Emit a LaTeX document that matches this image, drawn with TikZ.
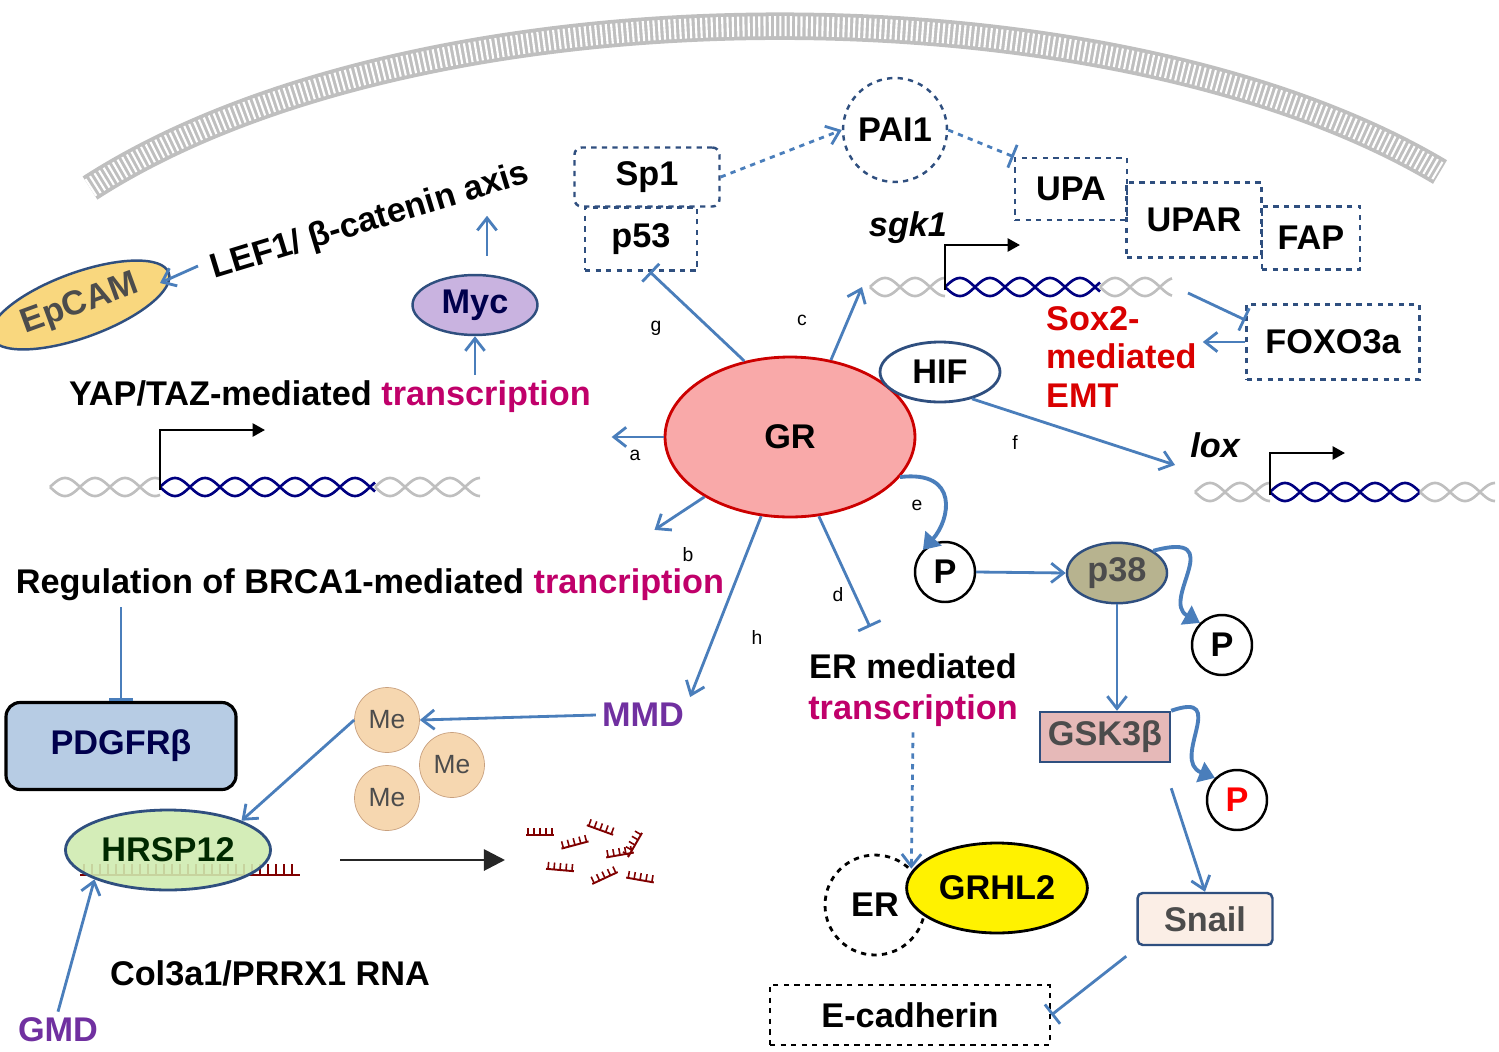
\documentclass[tikz,border=0pt]{standalone}
\usepackage{fontspec}
\setmainfont{Liberation Sans}
\usetikzlibrary{shapes.geometric,arrows.meta}
\definecolor{arrowblue}{HTML}{4A7EBB}
\definecolor{boxblue}{HTML}{2F4F7F}
\definecolor{magentatext}{HTML}{C0006A}
\definecolor{mdpurple}{HTML}{7030A0}
\definecolor{grfill}{HTML}{F9A9A9}
\definecolor{mycfill}{HTML}{C9B3E0}
\definecolor{epfill}{HTML}{F9D77E}
\definecolor{pdfill}{HTML}{B7CCE4}
\definecolor{mefill}{HTML}{F6D7B0}
\definecolor{medraw}{HTML}{C8A07E}
\definecolor{hrfill}{HTML}{CFEBB0}
\definecolor{p38fill}{HTML}{B7B38F}
\definecolor{gskfill}{HTML}{E6B9B8}
\definecolor{snfill}{HTML}{FBEEE6}
\newcommand{\helix}[4]{%
  \draw[#4, line width=1.5pt] plot[domain=#1:#2, samples=120] (\x,{#3+9*sin(6*(\x-#1))});
  \draw[#4, line width=1.5pt] plot[domain=#1:#2, samples=120] (\x,{#3-9*sin(6*(\x-#1))});}
\tikzset{
  lbl/.style={font=\fontsize{19.5}{23}\selectfont\bfseries},
  small/.style={font=\fontsize{11}{13}\selectfont},
  dbox/.style={draw=boxblue, dashed, line width=1.4pt, lbl, inner sep=0pt},
  act/.style={-{Straight Barb[length=7pt,width=11pt]}, arrowblue, line width=1.6pt},
  inh/.style={-{Bar[width=14pt]}, arrowblue, line width=1.6pt},
  pcirc/.style={circle, draw, line width=1.4pt, fill=white, minimum size=1.2cm, lbl, inner sep=0pt},
  metal/.style={circle, draw=medraw, fill=mefill, minimum size=1.3cm, font=\fontsize{15}{17}\selectfont, text=black!70, inner sep=0pt},
  phos/.style={-{Triangle[length=9pt,width=12pt]}, arrowblue, line width=2.2pt}
}
\begin{document}
\begin{tikzpicture}[x=0.02cm, y=-0.02cm]
        \useasboundingbox (0,0) rectangle (1499,1052);
        % membrane
        \draw[black!25, line width=0.55cm] (90,188) .. controls (420,-25) and (1110,-25) .. (1440,172);
        \draw[white, line width=0.4cm, dash pattern=on 1.2pt off 1.8pt] (90,188) .. controls (420,-25) and (1110,-25) .. (1440,172);

        % main players
        \node[ellipse, draw=red!80!black, line width=1.6pt, fill=grfill, minimum width=5cm, minimum height=3.2cm, lbl] (gr) at (790,437) {GR};
        \node[ellipse, draw=boxblue, line width=1.6pt, fill=white, minimum width=2.4cm, minimum height=1.2cm, lbl] (hif) at (940,372) {HIF};

        \node[dbox, minimum width=2.9cm, minimum height=1.18cm, rounded corners=4pt] (sp1) at (647,177) {Sp1};
        \node[dbox, minimum width=2.24cm, minimum height=1.26cm] (p53) at (641,239) {p53};
        \node[dbox, circle, minimum size=2.08cm] (pai1) at (895,130) {PAI1};
        \node[dbox, minimum width=2.24cm, minimum height=1.24cm] (upa) at (1071,189) {UPA};
        \node[dbox, minimum width=2.7cm, minimum height=1.5cm] (upar) at (1194,220) {UPAR};
        \node[dbox, minimum width=1.96cm, minimum height=1.26cm] (fap) at (1311,238) {FAP};
        \node[dbox, minimum width=3.46cm, minimum height=1.5cm] (foxo) at (1333,342) {FOXO3a};

        % genes
        \node[lbl, font=\fontsize{19.5}{23}\selectfont\bfseries\itshape] (sgk) at (908,228) {sgk1};
        \helix{870}{945}{287}{black!25}
        \helix{945}{1100}{287}{blue!50!black}
        \helix{1100}{1172}{287}{black!25}
        \draw[line width=1.3pt, -{Triangle[length=7pt]}] (945,290) -- (945,245) -- (1020,245);
        \coordinate (sgkend) at (1188,293);
        \coordinate (sgkin) at (862,287);

        \node[lbl, text=red!85!black, align=left, anchor=west, font=\fontsize{19.5}{23}\selectfont\bfseries] (sox) at (1040,357) {Sox2-\\[-1pt]mediated\\[-1pt]EMT};

        \node[lbl, font=\fontsize{19.5}{23}\selectfont\bfseries\itshape] (lox) at (1215,445) {lox};
        \helix{1195}{1270}{492}{black!25}
        \helix{1270}{1420}{492}{blue!50!black}
        \helix{1420}{1495}{492}{black!25}
        \draw[line width=1.3pt, -{Triangle[length=7pt]}] (1270,495) -- (1270,453) -- (1345,453);
        \coordinate (loxin) at (1175,465);

        \node[lbl] (yap) at (330,397) {YAP/TAZ-mediated \textcolor{magentatext}{transcription}};
        \helix{50}{160}{487}{black!25}
        \helix{160}{375}{487}{blue!50!black}
        \helix{375}{480}{487}{black!25}
        \draw[line width=1.3pt, -{Triangle[length=7pt]}] (160,490) -- (160,430) -- (265,430);

        \node[ellipse, draw=boxblue, line width=1.4pt, fill=mycfill, minimum width=2.5cm, minimum height=0.9cm, lbl, text=black!70!blue] (myc) at (475,305) {Myc};
        \node[ellipse, draw=boxblue, line width=1.4pt, fill=epfill, minimum width=2.8cm, minimum height=1.3cm, lbl, text=black!70, rotate=20] (epcam) at (80,305) {EpCAM};
        \node[lbl, rotate=17] (lef) at (370,222) {LEF1/ β-catenin axis};
        \coordinate (lefw) at (198,266);
        \coordinate (epin) at (160,283);

        \node[lbl] (brca) at (370,585) {Regulation of BRCA1-mediated \textcolor{magentatext}{trancription}};
        \node[draw, line width=1.8pt, rounded corners=8pt, fill=pdfill, minimum width=4.6cm, minimum height=1.74cm, lbl, text=black!70!blue] (pdgfr) at (121,746) {PDGFRβ};

        \node[metal] (me1) at (387,720) {Me};
        \node[metal] (me2) at (452,765) {Me};
        \node[metal] (me3) at (387,798) {Me};

        % RNA strand
        \draw[red!50!black, line width=1.6pt] (80,875) -- (300,875);
        \foreach \t in {84,92,...,296} \draw[red!50!black, line width=1pt] (\t,875) -- (\t,864);
        \node[ellipse, draw=boxblue, line width=1.6pt, fill=hrfill, fill opacity=0.9, text opacity=1, minimum width=2.9cm, minimum height=1.6cm, lbl, text=black!60!green!40!black] (hrsp) at (168,850) {HRSP12};
        \coordinate (rnaend) at (340,860);
        \coordinate (frag) at (505,860);
        \draw[black!85, line width=1.6pt, -{Triangle[length=12pt,width=12pt]}] (rnaend) -- (frag);
        % fragments
        \foreach \fx/\fy/\fr in {540/835/0, 575/845/15, 600/830/-20, 620/855/10, 560/870/-5, 605/878/25, 640/880/-10, 635/845/60} {
          \begin{scope}[shift={(\fx,\fy)}, rotate=\fr]
            \draw[red!50!black, line width=1.1pt] (-14,0) -- (14,0);
            \foreach \t in {-12,-6,0,6,12} \draw[red!50!black, line width=0.9pt] (\t,0) -- (\t,-7);
          \end{scope}}

        \node[lbl] (col) at (270,973) {Col3a1/PRRX1 RNA};
        \node[lbl, text=mdpurple] (gmd) at (58,1030) {GMD};
        \node[lbl, text=mdpurple] (mmd) at (643,715) {MMD};

        \node[lbl, align=center, font=\fontsize{19.5}{23}\selectfont\bfseries] (er) at (913,690) {ER mediated\\\textcolor{magentatext}{transcription}};
        \node[circle, draw, dashed, line width=1.6pt, fill=white, minimum size=2cm, lbl] (erc) at (875,905) {ER};
        \node[ellipse, draw, line width=1.6pt, fill=yellow, minimum width=3.2cm, minimum height=1.8cm, lbl] (grhl) at (997,888) {GRHL2};

        \node[pcirc] (p1) at (945,572) {P};
        \node[pcirc] (p2) at (1222,645) {P};
        \node[pcirc, text=red] (p3) at (1237,800) {P};
        \node[ellipse, draw=boxblue, line width=1.4pt, fill=p38fill, minimum width=1.7cm, minimum height=0.9cm, lbl, text=black!70] (p38) at (1117,573) {p38};
        \node[draw=boxblue, line width=1.4pt, fill=gskfill, minimum width=2.6cm, minimum height=1cm, lbl, text=black!70] (gsk) at (1105,737) {GSK3β};
        \node[draw=boxblue, line width=1.4pt, rounded corners=3pt, fill=snfill, minimum width=2.7cm, minimum height=1.04cm, lbl, text=black!70] (snail) at (1205,919) {Snail};
        \node[draw, dashed, line width=1.6pt, minimum width=5.6cm, minimum height=1.2cm, lbl] (ecad) at (910,1015) {E-cadherin};

        % letters
        \node[small] (la) at (635,455) {a};
        \node[small] (lb) at (688,555) {b};
        \node[small] (lc) at (802,320) {c};
        \node[small] (ld) at (838,595) {d};
        \node[small] (le) at (917,505) {e};
        \node[small] (lf) at (1015,443) {f};
        \node[small] (lg) at (656,328) {g};
        \node[small] (lh) at (757,637) {h};

        % connectors
        \draw[act] (gr.180) -- ++(-52,0);
        \draw[act] (gr.215) -- ++(-50,33);
        \draw[inh] (gr.121) -- (p53.-75);
        \draw[act] (gr.62) -- (sgkin);
        \draw[inh] (gr.-70) -- (870,627);
        \draw[act] (gr.-110) -- (mmd.north east);
        \draw[act] (hif.-40) -- (loxin);
        \draw[act, dashed] (sp1.east) -- (pai1.west);
        \draw[inh, dashed] (pai1.east) -- (upa.north west);
        \draw[inh] (sgkend) -- (foxo.west |- 320,320);
        \draw[act] (foxo.west) -- (sox.east |- foxo.west);
        \draw[act] (myc.north) ++(12,-18) -- ++(0,-40);
        \draw[act] (yap.north -| myc.south) -- (myc.south);
        \draw[act] (lefw) -- (epin);
        \draw[inh] (brca.south -| pdgfr.north) -- (pdgfr.north);
        \draw[act] (mmd.west) -- (me1.east);
        \draw[act] (me1.west) -- (hrsp.north east);
        \draw[act] (gmd.north) -- (hrsp.south west);
        \draw[act, dashed] (er.south) -- (erc.north east);
        \draw[act] (p1.east) -- (p38.west);
        \draw[act] (p38.south) -- (gsk.north -| p38.south);
        \draw[act] (gsk.south east) ++(0,25) -- (snail.north);
        \draw[inh] (snail.south west) ++(-10,10) -- (ecad.east);

        % phosphorylation curves
        \draw[phos] (gr.-20) .. controls (960,470) and (950,520) .. (p1.north west);
        \draw[phos] (p38.north east) .. controls (1230,530) and (1160,600) .. (p2.north west);
        \draw[phos] (gsk.north east) .. controls (1230,690) and (1170,760) .. (p3.north west);
    \end{tikzpicture}
\end{document}
